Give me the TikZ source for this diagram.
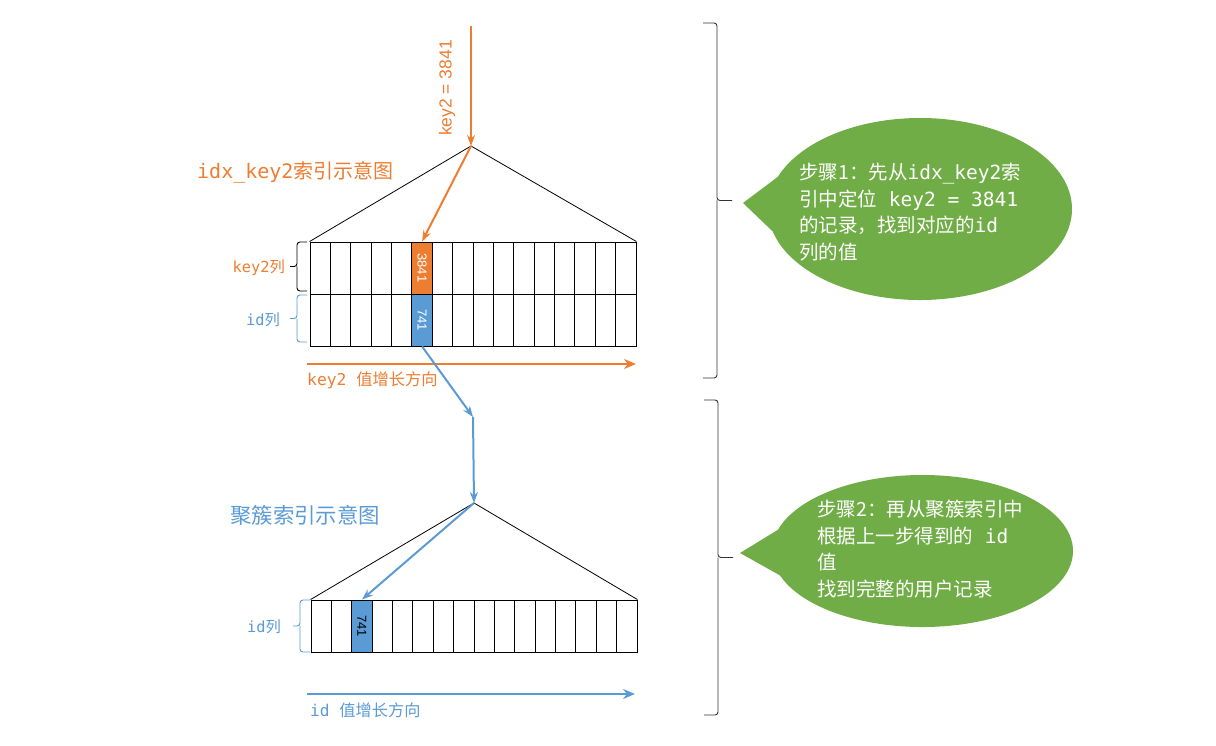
\documentclass[tikz,border=0pt]{standalone}
\usepackage{fontspec}
\usepackage{graphicx}
\setmainfont{Noto Sans CJK SC}
\newfontfamily\mono{DejaVu Sans Mono}
\newfontfamily\lsans{Liberation Sans}
\usetikzlibrary{arrows.meta,shapes.callouts,positioning}
\definecolor{idxorange}{RGB}{237,125,49}
\definecolor{idxblue}{RGB}{91,155,213}
\definecolor{stepgreen}{RGB}{112,173,71}

\begin{document}
\begin{tikzpicture}[x=1pt,y=-1pt,
    cell/.style={draw,line width=0.9pt,minimum width=20.375pt,minimum height=52pt,inner sep=0pt},
    ptr/.style={line width=2pt,-{Stealth[length=11pt,width=8pt]}},
    dirarrow/.style={line width=2.6pt,-{Stealth[length=12pt,width=10pt]}},
    bubble/.style={ellipse callout,fill=stepgreen,inner sep=0pt,callout pointer arc=35},
    bubbletext/.style={text=white,align=left,inner sep=0pt,anchor=west,font=\fontsize{19.5}{26.5}\selectfont},
    bracket/.style={line width=0.9pt,rounded corners=3pt}
  ]
  \useasboundingbox (0,0) rectangle (1216,746);

  % idx_key2 index
  \coordinate (top1) at (471,146);
  \foreach \i in {0,...,15} {
    \node [cell] (k-\i) at ({320.19+20.375*\i},268) {};
    \node [cell] (d-\i) at ({320.19+20.375*\i},320) {};
  }
  \draw [line width=0.8pt] (k-0.north west) -- (top1) -- (k-15.north east);
  \node [cell,fill=idxorange,text=white,font=\lsans\fontsize{13}{15}\selectfont] (k-hit) at (k-5) {\rotatebox{-90}{3841}};
  \node [cell,fill=idxblue,text=white,font=\lsans\fontsize{13}{15}\selectfont] (d-hit) at (d-5) {\rotatebox{-90}{741}};
  \node [idxorange,anchor=west,inner sep=0pt,font=\fontsize{20}{24}\selectfont] (title1) at (197,172) {{\mono idx\_key2}索引示意图};
  \node [idxorange,anchor=east,inner sep=0pt,font=\fontsize{15.3}{18}\selectfont] (keylabel) at (285,268) {{\mono key2}列};
  \node [idxblue,anchor=east,inner sep=0pt,font=\fontsize{15.3}{18}\selectfont] (idlabel1) at (280,320) {{\mono id}列};

  \coordinate (q) at (471,26);
  \draw [ptr,idxorange] (q) -- (top1);
  \draw [ptr,idxorange] (top1) -- (k-hit.north);
  \node [idxorange,rotate=90,inner sep=0pt,font=\lsans\fontsize{17.5}{20}\selectfont] (qlabel) at (447,88) {key2 = 3841};

  \coordinate (ka) at (307,364);
  \coordinate (kb) at (636,364);
  \draw [dirarrow,idxorange] (ka) -- (kb);
  \node [idxorange,anchor=west,inner sep=0pt,font=\fontsize{16.3}{18}\selectfont] (kdir) at (307,380) {{\mono key2\ }值增长方向};

  % clustered index
  \coordinate (mid) at (473,417);
  \coordinate (top2) at (474,503);
  \foreach \i in {0,...,15} {
    \node [cell] (c-\i) at ({321.19+20.375*\i},626) {};
  }
  \draw [line width=0.8pt] (c-0.north west) -- (top2) -- (c-15.north east);
  \node [cell,fill=idxblue,font=\lsans\fontsize{13}{15}\selectfont] (c-hit) at (c-2) {\rotatebox{-90}{741}};
  \node [idxblue,anchor=west,inner sep=0pt,font=\fontsize{21.4}{24}\selectfont] (title2) at (230,515) {聚簇索引示意图};
  \node [idxblue,anchor=east,inner sep=0pt,font=\fontsize{15.3}{18}\selectfont] (idlabel2) at (281,627) {{\mono id}列};

  \draw [ptr,idxblue] (d-hit.south) -- (mid);
  \draw [ptr,idxblue] (mid) -- (top2);
  \draw [ptr,idxblue] (top2) -- (c-hit.north);

  \coordinate (ia) at (307,694);
  \coordinate (ib) at (635,694);
  \draw [dirarrow,idxblue] (ia) -- (ib);
  \node [idxblue,anchor=west,inner sep=0pt,font=\fontsize{16.2}{18}\selectfont] (idir) at (310,710) {{\mono id\ }值增长方向};

  % braces
  \foreach \x/\ya/\yb/\h/\t/\col in {297/242/291/10/-7/black, 297/295/342/10/-7/idxblue, 300/600/652/10/-7/idxblue, 717/23/378/-14/15/black!80, 718/400/715/-14/15/black!80} {
    \draw [bracket,color=\col] ({\x+\h},\ya) -- (\x,\ya) -- (\x,{(\ya+\yb)/2}) -- ({\x+\t},{(\ya+\yb)/2})
      (\x,{(\ya+\yb)/2}) -- (\x,\yb) -- ({\x+\h},\yb);
  }

  % steps
  \coordinate (tip1) at (743,203);
  \node [bubble,minimum width=304pt,minimum height=182pt,callout absolute pointer={(tip1)}] (step1) at (920,209) {};
  \node [bubbletext] (step1text) at (799,212) {步骤1：先从{\mono idx\_key2}索\\引中定位{\mono\ key2 = 3841}\\的记录，找到对应的{\mono id}\\列的值};

  \coordinate (tip2) at (740,553);
  \node [bubble,minimum width=301pt,minimum height=152pt,callout absolute pointer={(tip2)}] (step2) at (922.5,551) {};
  \node [bubbletext] (step2text) at (817,549) {步骤2：再从聚簇索引中\\根据上一步得到的{\mono\ id}\\值\\找到完整的用户记录};
\end{tikzpicture}
\end{document}
